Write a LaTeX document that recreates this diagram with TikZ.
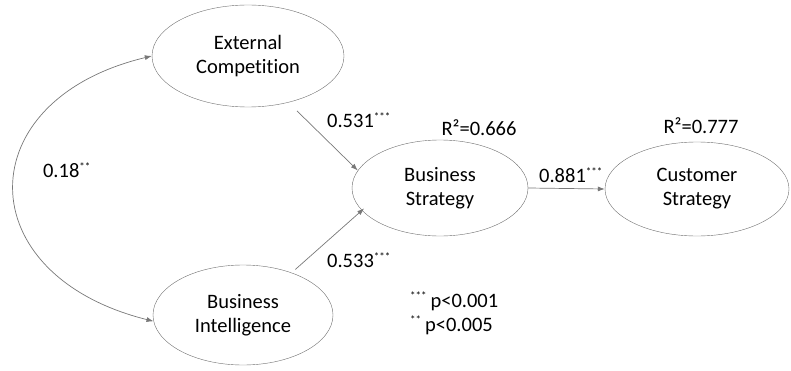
\documentclass[tikz,border=0pt]{standalone}
\usepackage{fontspec}
\setmainfont{Carlito}[Ligatures=NoCommon]
\usetikzlibrary{shapes.geometric,arrows.meta,positioning}
\definecolor{pathgray}{RGB}{120,120,120}
\definecolor{rimgray}{RGB}{110,110,110}
\newcommand{\sig}[1]{\textsuperscript{\fontsize{11}{11}\selectfont #1}}

\begin{document}
\begin{tikzpicture}[
    x=1pt, y=1pt,
    latent/.style={ellipse, draw=rimgray, thin, align=center,
                   font=\fontsize{20.5}{24}\selectfont, inner sep=0pt},
    arr/.style={-{Latex[length=7pt,width=5pt]}, pathgray, line width=0.7pt},
    lbl/.style={font=\fontsize{20.5}{24}\selectfont, inner sep=0pt}
]
\useasboundingbox (0,0) rectangle (791,370);

\node[latent, minimum width=192pt, minimum height=102pt] (ec) at (248,314) {External\\Competition};
\node[latent, minimum width=180pt, minimum height=100pt] (bi) at (243,55) {Business\\Intelligence};
\node[latent, minimum width=176pt, minimum height=96pt] (bs) at (440,182) {Business\\Strategy};
\node[latent, minimum width=184pt, minimum height=94pt] (cs) at (697,181) {Customer\\Strategy};

% paths
\draw[arr, shorten <=12pt] (ec.-49) -- (bs.168);
\draw[arr, shorten <=5pt, shorten >=-3pt] (bi.41) -- (bs.196);
\draw[arr] (bs.east) -- (cs.west);

% correlation
\draw[arr, {Latex[length=7pt,width=5pt]}-{Latex[length=7pt,width=5pt]}] (ec.west) .. controls (-32,270) and (-32,95) .. (bi.184);

% coefficients
\node[lbl] (c18) at (67,200) {0.18\sig{**}};
\node[lbl] (c531) at (359,250) {0.531\sig{***}};
\node[lbl] (c533) at (359,110) {0.533\sig{***}};
\node[lbl] (c881) at (571,195) {0.881\sig{***}};
\node[lbl] (r2bs) at (479,242) {R²=0.666};
\node[lbl] (r2cs) at (701,244) {R²=0.777};

\node[lbl, anchor=west, align=left] (legend) at (410,57) {\sig{***}\,p<0.001\\\sig{**}\,p<0.005};
\end{tikzpicture}
\end{document}
